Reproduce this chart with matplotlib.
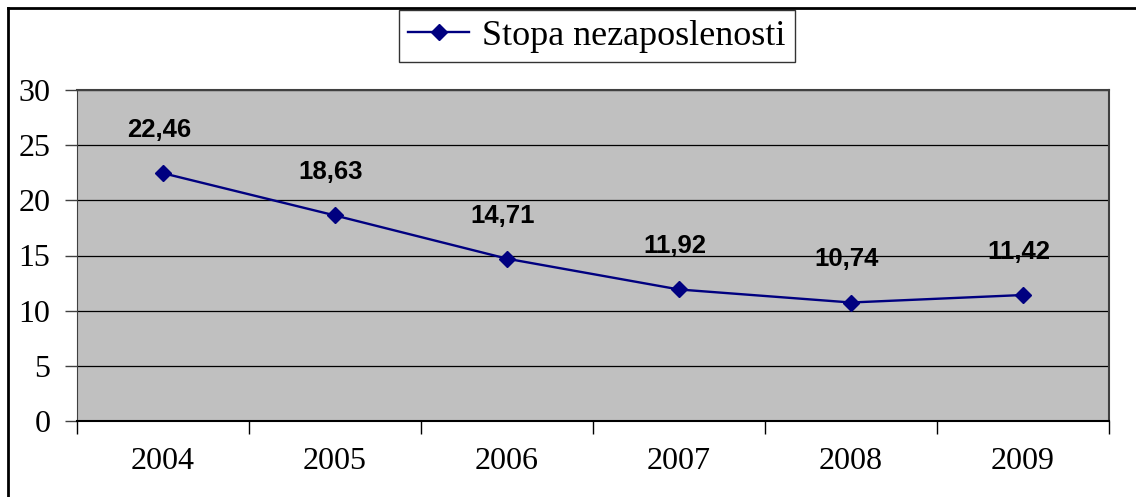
import matplotlib.pyplot as plt
from matplotlib.lines import Line2D

years = ['2004', '2005', '2006', '2007', '2008', '2009']
rates = [22.46, 18.63, 14.71, 11.92, 10.74, 11.42]
series_name = 'Stopa nezaposlenosti'

serif = ['Liberation Serif', 'DejaVu Serif']
sans = ['Liberation Sans', 'DejaVu Sans']

fig = plt.figure(figsize=(11.36, 4.97), dpi=100)
ax = fig.add_axes([77 / 1136, 76 / 497, 1032 / 1136, 331 / 497])
ax.set_facecolor('#C0C0C0')

x = list(range(len(years)))
ax.plot(x, rates, color='#000080', lw=1.7, marker='D', ms=8.5, zorder=3)

for xi, v in zip(x, rates):
    ax.annotate(f'{v:.2f}'.replace('.', ','), (xi, v), xytext=(-3, 31),
                textcoords='offset points', ha='center', va='center',
                fontsize=18.5, fontweight='bold', family=sans, zorder=4)

ax.set_xlim(-0.5, len(years) - 0.5)
ax.set_ylim(0, 30)
ax.set_yticks(range(0, 31, 5))
ax.set_yticklabels([str(t) for t in range(0, 31, 5)], family=serif, fontsize=23)
ax.yaxis.grid(True, color='black', lw=0.9)
ax.set_axisbelow(True)

# category labels centred, tick marks on category boundaries
ax.set_xticks(x)
ax.set_xticklabels(years, family=serif, fontsize=23)
ax.tick_params(axis='x', length=0, pad=19)
ax.set_xticks([i - 0.5 for i in range(len(years) + 1)], minor=True)
ax.tick_params(axis='x', which='minor', length=9, width=1, color='black', direction='out')
ax.tick_params(axis='y', length=9, width=1, color='#404040', pad=10)

for side in ['top', 'right']:
    ax.spines[side].set_color('#404040')
    ax.spines[side].set_linewidth(1.5)
ax.spines['left'].set_color('#404040')
ax.spines['bottom'].set_color('black')
ax.spines['bottom'].set_linewidth(1.5)

handle = Line2D([], [], color='#000080', lw=1.7, marker='D', ms=8.5)
leg = fig.legend([handle], [series_name], loc='center', bbox_to_anchor=(597 / 1136, 1 - 36 / 497),
                 prop={'family': serif, 'size': 26}, frameon=True, fancybox=False,
                 edgecolor='black', handlelength=1.7, borderpad=0.25, handletextpad=0.36)
leg.get_frame().set_linewidth(1)

# outer chart frame (only top and left edges visible)
fig.add_artist(Line2D([8 / 1136, 8 / 1136], [0, 1 - 8 / 497], color='black', lw=2, transform=fig.transFigure))
fig.add_artist(Line2D([8 / 1136, 1], [1 - 8 / 497, 1 - 8 / 497], color='black', lw=2, transform=fig.transFigure))

fig.savefig('out.png', dpi=100)
